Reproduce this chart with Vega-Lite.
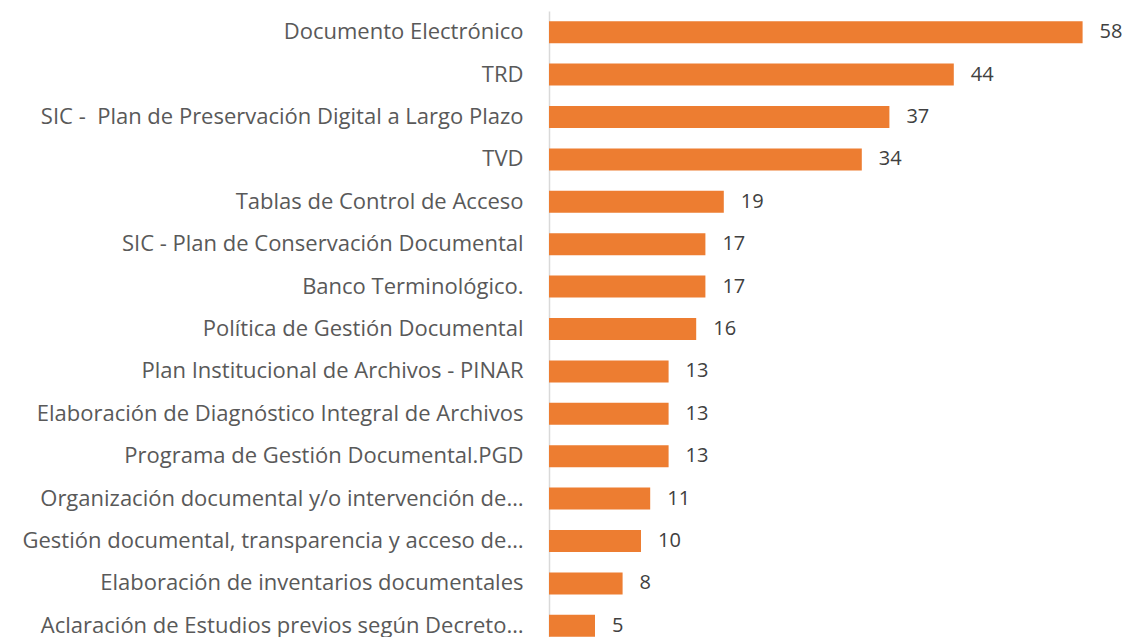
{
  "$schema": "https://vega.github.io/schema/vega-lite/v6.json",
  "width": 552,
  "height": 636,
  "autosize": {"type": "none"},
  "padding": {"left": 549, "top": 11, "right": 25, "bottom": 0},
  "background": "white",
  "config": {"view": {"stroke": null}, "font": "Open Sans"},
  "data": {
    "values": [
      {"tema": "Documento Electrónico", "valor": 58},
      {"tema": "TRD", "valor": 44},
      {"tema": "SIC - \u00a0Plan de Preservación Digital a Largo Plazo", "valor": 37},
      {"tema": "TVD", "valor": 34},
      {"tema": "Tablas de Control de Acceso", "valor": 19},
      {"tema": "SIC - Plan de Conservación Documental", "valor": 17},
      {"tema": "Banco Terminológico.", "valor": 17},
      {"tema": "Política de Gestión Documental", "valor": 16},
      {"tema": "Plan Institucional de Archivos - PINAR", "valor": 13},
      {"tema": "Elaboración de Diagnóstico Integral de Archivos", "valor": 13},
      {"tema": "Programa de Gestión Documental.PGD", "valor": 13},
      {"tema": "Organización documental y/o intervención de…", "valor": 11},
      {"tema": "Gestión documental, transparencia y acceso de…", "valor": 10},
      {"tema": "Elaboración de inventarios documentales", "valor": 8},
      {"tema": "Aclaración de Estudios previos según Decreto…", "valor": 5}
    ]
  },
  "encoding": {
    "y": {
      "field": "tema",
      "type": "nominal",
      "sort": null,
      "title": null,
      "scale": {"paddingInner": 0.48, "paddingOuter": 0.24},
      "axis": {
        "domain": true,
        "domainColor": "#d9d9d9",
        "domainWidth": 1.5,
        "ticks": false,
        "labelPadding": 26,
        "labelFontSize": 22,
        "labelColor": "#595959",
        "labelLimit": 0,
        "labelFont": "Open Sans"
      }
    },
    "x": {
      "field": "valor",
      "type": "quantitative",
      "scale": {"domain": [0, 60], "nice": false},
      "axis": null
    }
  },
  "layer": [
    {"mark": {"type": "bar", "color": "#ED7D31"}},
    {
      "mark": {"type": "text", "align": "left", "dx": 17, "fontSize": 20, "color": "#404040", "font": "Open Sans"},
      "encoding": {"text": {"field": "valor", "type": "quantitative"}}
    }
  ]
}
